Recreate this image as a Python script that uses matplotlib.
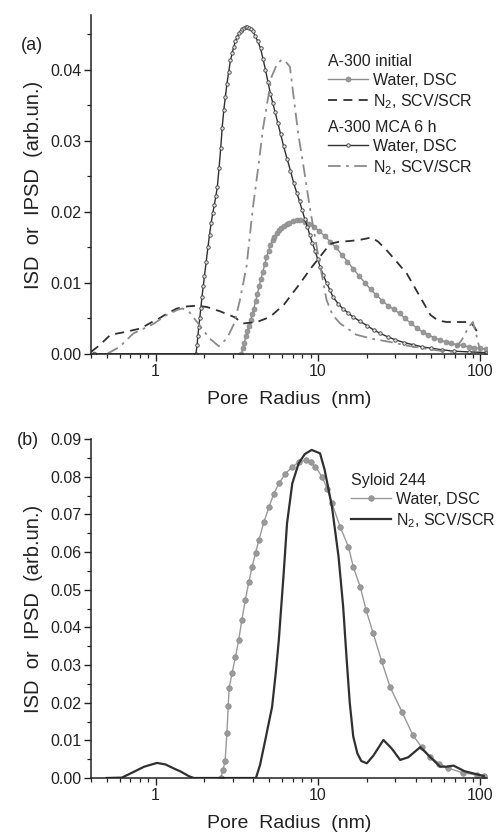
import matplotlib
matplotlib.use("Agg")
import matplotlib.pyplot as plt
from matplotlib.ticker import MultipleLocator, LogLocator, NullFormatter, FixedLocator, FixedFormatter

plt.rcParams['font.family'] = ['Liberation Sans', 'DejaVu Sans']
plt.rcParams['mathtext.default'] = 'regular'

# ---- panel (a): A-300 ----
init_dsc_x = [0.42, 3.38, 3.45, 3.52, 3.6, 3.68, 3.76, 3.85, 3.94, 4.03, 4.13, 4.23, 4.34, 4.45, 4.57, 4.7,
              4.82, 4.96, 5.1, 5.25, 5.4, 5.58, 5.76, 5.96, 6.18, 6.42, 6.68, 6.98, 7.38, 7.8, 8.3, 8.8,
              9.4, 10.2, 11.0, 11.9, 12.9, 14.0, 15.2, 16.5, 17.9, 19.5, 21.1, 22.9, 24.9, 27.0, 29.3,
              31.8, 34.5, 37.4, 40.6, 44.1, 47.8, 51.9, 56.3, 61.1, 66.3, 72, 78, 85, 92, 100, 108]
init_dsc_y = [0.0, 0.0, 0.0008, 0.0016, 0.0025, 0.0033, 0.0040, 0.0048, 0.0056, 0.0064, 0.0074, 0.0084,
              0.0095, 0.0105, 0.0115, 0.0126, 0.0136, 0.0145, 0.0153, 0.0160, 0.0165, 0.0170, 0.0174,
              0.0177, 0.0180, 0.0183, 0.0185, 0.0187, 0.0188, 0.0188, 0.0186, 0.0183, 0.0179, 0.0173,
              0.0166, 0.0158, 0.0150, 0.0140, 0.0130, 0.0120, 0.0110, 0.0100, 0.0091, 0.0083, 0.0075,
              0.0068, 0.0063, 0.0057, 0.0050, 0.0043, 0.0037, 0.0031, 0.0027, 0.0023, 0.0020, 0.0017,
              0.0015, 0.0013, 0.0012, 0.0010, 0.0009, 0.0008, 0.0007]

init_n2_x = [0.4, 0.45, 0.527, 0.65, 0.81, 0.95, 1.05, 1.18, 1.35, 1.57, 1.8, 2.08, 2.5, 3.05, 3.46, 4.2,
             5.06, 6.2, 7.74, 9.0, 10.3, 11.9, 13.5, 15.8, 18.5, 21.4, 23.5, 26.5, 30.5, 35.3, 42.7, 49.3,
             55, 62.2, 75, 86.7, 92, 97.7]
init_n2_y = [0.0003, 0.0012, 0.0027, 0.0031, 0.0036, 0.0045, 0.0050, 0.0057, 0.0064, 0.0067, 0.0068,
             0.0066, 0.0060, 0.0052, 0.0043, 0.0045, 0.0052, 0.0070, 0.0099, 0.0120, 0.0137, 0.0155,
             0.0158, 0.0159, 0.0161, 0.0164, 0.0158, 0.0146, 0.0130, 0.0113, 0.0080, 0.0055, 0.0047,
             0.0045, 0.0045, 0.0045, 0.0038, 0.0027]

mca_dsc_x = [0.42, 1.77, 1.80, 1.82, 1.845, 1.87, 1.9, 1.93, 1.965, 2.0, 2.05, 2.1, 2.15, 2.2, 2.25,
             2.3, 2.35, 2.4, 2.46, 2.52, 2.57, 2.63, 2.69, 2.75, 2.82, 2.89, 2.96, 3.03, 3.1, 3.18,
             3.26, 3.35, 3.42, 3.5, 3.58, 3.67, 3.76, 3.85, 3.97, 4.1, 4.26, 4.43, 4.59, 4.75, 4.92,
             5.1, 5.27, 5.45, 5.66, 5.88, 6.15, 6.45, 6.77, 7.1, 7.4, 7.7, 8.0, 8.3, 8.6, 8.9, 9.25,
             9.6, 9.95, 10.3, 10.8, 11.3, 11.85, 12.4, 13.3, 14.2, 15.3, 16.5, 18.2, 20, 22, 24.2,
             27, 30, 34, 38.7, 44, 50, 58, 68.4, 85, 108]
mca_dsc_y = [0.0, 0.0, 0.0012, 0.0025, 0.0038, 0.0050, 0.0065, 0.0080, 0.0095, 0.0110, 0.0130, 0.0150,
             0.0168, 0.0185, 0.0198, 0.0210, 0.0222, 0.0235, 0.0262, 0.0290, 0.0318, 0.0343, 0.0362,
             0.0380, 0.0397, 0.0413, 0.0423, 0.0432, 0.0440, 0.0446, 0.0451, 0.0455, 0.0458, 0.0459,
             0.0460, 0.0460, 0.0459, 0.0457, 0.0454, 0.0448, 0.0440, 0.0430, 0.0415, 0.0400, 0.0383,
             0.0366, 0.0353, 0.0340, 0.0325, 0.0310, 0.0292, 0.0275, 0.0258, 0.0240, 0.0227, 0.0215,
             0.0202, 0.0190, 0.0179, 0.0168, 0.0156, 0.0145, 0.0134, 0.0123, 0.0111, 0.0100, 0.0090,
             0.0080, 0.0071, 0.0064, 0.0058, 0.0052, 0.0046, 0.0040, 0.0034, 0.0029, 0.0024, 0.0020,
             0.0016, 0.0013, 0.0010, 0.0008, 0.0006, 0.0004, 0.0003, 0.0002]

mca_n2_x = [0.5, 0.6, 0.73, 0.85, 0.98, 1.15, 1.36, 1.46, 1.6, 1.9, 2.15, 2.45, 2.75, 3.05, 3.3, 3.63,
            3.98, 4.3, 4.6, 5.18, 5.6, 5.97, 6.3, 6.72, 7.1, 7.56, 8.2, 8.9, 10.0, 11.3, 12.3, 13.7,
            17.3, 22, 27.8, 35, 44.7, 55, 68, 77, 85, 90, 95, 100]
mca_n2_y = [0.0, 0.0010, 0.0029, 0.0036, 0.0043, 0.0054, 0.0062, 0.0064, 0.0060, 0.0038, 0.0022, 0.0011,
            0.0022, 0.0043, 0.0075, 0.0123, 0.0207, 0.0265, 0.0319, 0.0390, 0.0408, 0.0414, 0.0412,
            0.0404, 0.0360, 0.0310, 0.0260, 0.0207, 0.0141, 0.0076, 0.0055, 0.0043, 0.0027, 0.0021,
            0.0017, 0.0012, 0.0008, 0.0005, 0.0003, 0.0020, 0.0038, 0.0045, 0.0025, 0.0003]

# ---- panel (b): Syloid 244 ----
syl_dsc_x = [2.52, 2.6, 2.68, 2.75, 2.8, 2.84, 2.96, 3.1, 3.25, 3.4, 3.57, 3.75, 3.93, 4.13, 4.33, 4.65,
             5.0, 5.35, 5.75, 6.3, 6.95, 7.6, 8.4, 9.0, 9.65, 10.6, 11.4, 12.2, 13.7, 15.4, 16.5, 18.2,
             19.8, 21.9, 24.7, 27.8, 32.9, 38.4, 43.5, 49.1, 56, 63.7, 78, 95.5, 105]
syl_dsc_y = [0.0, 0.0020, 0.0045, 0.0120, 0.0190, 0.0240, 0.0279, 0.0320, 0.0366, 0.0420, 0.0473,
             0.0520, 0.0561, 0.0598, 0.0632, 0.0680, 0.0720, 0.0755, 0.0782, 0.0808, 0.0826, 0.0838,
             0.0844, 0.0838, 0.0826, 0.0800, 0.0768, 0.0729, 0.0667, 0.0614, 0.0561, 0.0508, 0.0446,
             0.0384, 0.0310, 0.0242, 0.0176, 0.0114, 0.0082, 0.0057, 0.0038, 0.0026, 0.0014, 0.0008,
             0.0006]

syl_n2_x = [0.5, 0.62, 0.7, 0.85, 1.02, 1.15, 1.3, 1.43, 1.6, 1.72, 4.15, 4.4, 4.74, 5.0, 5.22, 5.5,
            5.74, 6.15, 6.45, 6.95, 7.6, 8.3, 9.15, 10.3, 11.0, 12.2, 13.4, 14.3, 15.0, 15.7, 16.5,
            17.5, 18.5, 20, 22, 25.3, 28.5, 32.1, 36, 42.7, 48, 56.6, 62, 68.4, 80, 91, 105]
syl_n2_y = [0.0, 0.0001, 0.0012, 0.0030, 0.0040, 0.0036, 0.0025, 0.0017, 0.0005, 0.0, 0.0, 0.0035,
            0.0101, 0.0150, 0.0189, 0.0280, 0.0366, 0.0543, 0.0676, 0.0782, 0.0835, 0.0860, 0.0871,
            0.0862, 0.0818, 0.0720, 0.0587, 0.0455, 0.0320, 0.0200, 0.0110, 0.0065, 0.0045, 0.0039,
            0.0060, 0.0101, 0.0078, 0.0048, 0.0055, 0.0082, 0.0060, 0.0030, 0.0030, 0.0033, 0.0018,
            0.0012, 0.0005]

GRAY = '#8a8a8a'
DARK = '#303030'
TXT = '#222222'
W, H = 498, 832

fig = plt.figure(figsize=(W / 100, H / 100), dpi=100)
ax1 = fig.add_axes([91 / W, 1 - 354 / H, 396 / W, 339 / H])
ax2 = fig.add_axes([91 / W, 1 - 778 / H, 396 / W, 339 / H])

# panel a curves
l1, = ax1.plot(init_dsc_x, init_dsc_y, color=GRAY, lw=1.0, marker='o', ms=3.6,
               mfc='#999999', mec='#8a8a8a', mew=0.5)
l2, = ax1.plot(init_n2_x, init_n2_y, color=DARK, lw=1.3, ls=(0, (5, 3.5)))
l3, = ax1.plot(mca_dsc_x, mca_dsc_y, color=DARK, lw=1.0, marker='o', ms=2.5,
               mfc='#e0e0e0', mec='#404040', mew=0.6)
l4, = ax1.plot(mca_n2_x, mca_n2_y, color=GRAY, lw=1.3, ls=(0, (7, 3, 1.5, 3)))

# panel b curves
m1, = ax2.plot(syl_dsc_x, syl_dsc_y, color='#999999', lw=1.0, marker='o', ms=4.0,
               mfc='#9a9a9a', mec='#8a8a8a', mew=0.5)
m2, = ax2.plot(syl_n2_x, syl_n2_y, color=DARK, lw=1.6)

for ax in (ax1, ax2):
    ax.set_xscale('log')
    ax.set_xlim(0.4, 110)
    ax.spines['top'].set_visible(False)
    ax.spines['right'].set_visible(False)
    for s in ('left', 'bottom'):
        ax.spines[s].set_linewidth(1.1)
        ax.spines[s].set_color(TXT)
    ax.xaxis.set_major_locator(FixedLocator([1, 10, 100]))
    ax.xaxis.set_major_formatter(FixedFormatter(['1', '10', '100']))
    ax.xaxis.set_minor_locator(LogLocator(base=10, subs=range(2, 10)))
    ax.xaxis.set_minor_formatter(NullFormatter())
    ax.tick_params(which='major', direction='out', length=5, width=1.0, labelsize=11.5,
                   colors=TXT, pad=2)
    ax.tick_params(which='minor', direction='out', length=3, width=0.9, colors=TXT)
    ax.set_xlabel('Pore  Radius  (nm)', fontsize=14, color=TXT, labelpad=9)
    ax.set_ylabel('ISD  or  IPSD  (arb.un.)', fontsize=14.5, color=TXT, labelpad=5)

ax1.set_ylim(0, 0.0477)
ax1.yaxis.set_major_locator(MultipleLocator(0.01))
ax1.yaxis.set_minor_locator(MultipleLocator(0.005))
ax1.yaxis.set_major_formatter(plt.FormatStrFormatter('%.2f'))

ax2.set_ylim(0, 0.09)
ax2.yaxis.set_major_locator(MultipleLocator(0.01))
ax2.yaxis.set_minor_locator(MultipleLocator(0.005))
ax2.yaxis.set_major_formatter(plt.FormatStrFormatter('%.2f'))

fig.text(21 / W, 1 - 45 / H, '(a)', fontsize=13, ha='left', va='center', color=TXT)
fig.text(17 / W, 1 - 441 / H, '(b)', fontsize=13, ha='left', va='center', color=TXT)

leg_kw = dict(frameon=False, loc='upper left', fontsize=11.5, title_fontsize=11.5,
              handlelength=2.5, handletextpad=0.3, labelspacing=0.25, borderpad=0,
              borderaxespad=0, alignment='left')
lg1 = fig.legend([l1, l2], ['Water, DSC', 'N$_2$, SCV/SCR'], title='A-300 initial',
                 bbox_to_anchor=(328 / W, 1 - 54 / H), **leg_kw)
lg2 = fig.legend([l3, l4], ['Water, DSC', 'N$_2$, SCV/SCR'], title='A-300 MCA 6 h',
                 bbox_to_anchor=(328 / W, 1 - 120 / H), **leg_kw)
lg3 = fig.legend([m1, m2], ['Water, DSC', 'N$_2$, SCV/SCR'], title='Syloid 244',
                 bbox_to_anchor=(351 / W, 1 - 473 / H), **leg_kw)
for lg in (lg1, lg2, lg3):
    for t in lg.get_texts():
        t.set_color(TXT)
    lg.get_title().set_color(TXT)

fig.savefig('out.png', dpi=100, facecolor='white')
